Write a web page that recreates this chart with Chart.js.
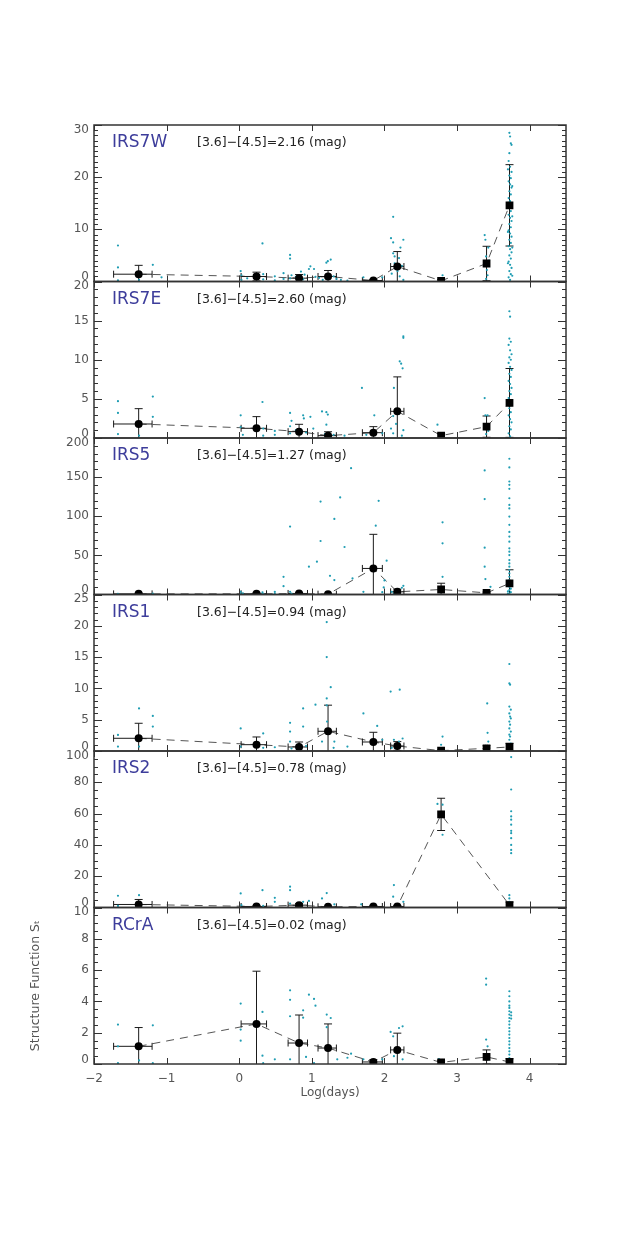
<!DOCTYPE html>
<html>
<head>
<meta charset="utf-8">
<script src="https://cdn.jsdelivr.net/npm/chart.js@4.4.1/dist/chart.umd.min.js"></script>
<style>
  body { margin: 0; background: #fff; }
  #wrap { position: relative; width: 627px; height: 1253px; }
  #wrap canvas { position: absolute; left: 0; top: 0; }
</style>
</head>
<body>
<div id="wrap"></div>
<script>
// lag bins (log days) shared by all sources
const binCenters = [-1.385, 0.238, 0.824, 1.223, 1.847, 2.177, 2.78, 3.406, 3.722];
const binLow = [-1.73, 0.026, 0.673, 1.085, 1.696, 2.085, 2.765, 3.395, 3.712];
const binHigh = [-1.20, 0.376, 0.94, 1.338, 1.971, 2.268, 2.795, 3.417, 3.732];

const sourceNames = ['IRS7W', 'IRS7E', 'IRS5', 'IRS1', 'IRS2', 'RCrA'];
const sourceColors = ['2.16', '2.60', '1.27', '0.94', '0.78', '0.02'];
const yMax = [30, 20, 200, 25, 100, 10];
const yMajor = [10, 5, 50, 5, 20, 2];
const yMinor = [1, 1, 10, 1, 5, 0.5];

const irs7wMean = [1.4, 0.96, 0.64, 0.96, 0.19, 2.87, 0.13, 3.45, 14.6];
const irs7wErr = [1.7, 0.83, 0.7, 1.15, 0.2, 2.87, 0.2, 3.3, 7.8];
const irs7eMean = [1.79, 1.24, 0.81, 0.30, 0.68, 3.41, 0.30, 1.45, 4.48];
const irs7eErr = [1.96, 1.49, 0.94, 0.5, 0.77, 4.4, 0.25, 1.36, 4.4];
const irs5Mean = [0.8, 0.9, 1.3, 0.4, 33.3, 3.4, 6.4, 2.1, 14.1];
const irs5Err = [0.8, 0.9, 1.0, 0.5, 43.6, 3.4, 8.0, 1.0, 17.5];
const irs1Mean = [2.03, 1.01, 0.64, 3.15, 1.44, 0.8, 0.05, 0.43, 0.64];
const irs1Err = [2.4, 1.23, 0.8, 4.17, 1.55, 0.7, 0.1, 0.4, 0.6];
const irs2Mean = [1.93, 0.64, 1.5, 0.43, 0.64, 0.64, 59.5, null, 1.5];
const irs2Err = [3.2, 0.5, 1.0, 0.3, 0.5, 0.6, 10.3, null, 2.0];
const rcraMean = [1.13, 2.56, 1.34, 1.02, 0.13, 0.9, 0.1, 0.45, 0.13];
const rcraErr = [1.2, 3.37, 1.79, 1.54, 0.15, 1.07, 0.1, 0.45, 0.2];

// individual pairs (log lag, S)
const irs7wDots = [
  [-1.67,6.9],[-1.67,2.7],[-1.67,0.2],[-1.38,0.3],[-1.19,3.2],[-1.07,0.8],
  [0.02,2.0],[0.03,1.2],[0.03,0.3],[0.11,0.6],[0.32,7.3],[0.33,1.4],[0.33,0.4],[0.49,1.0],[0.49,0.2],[0.61,1.6],[0.61,0.5],
  [0.70,5.1],[0.70,4.4],[0.70,0.6],[0.72,1.2],[0.78,0.9],[0.85,1.9],[0.88,0.4],[0.90,1.3],[0.96,2.4],[0.98,2.9],[1.03,2.4],
  [1.05,0.9],[1.10,0.7],[1.15,0.3],[1.20,3.6],[1.22,3.9],[1.26,4.2],[1.30,1.0],[1.34,0.5],[1.40,0.3],[1.49,0.15],[1.71,0.8],[1.86,0.3],[1.97,0.8],
  [2.09,8.3],[2.12,12.4],[2.12,7.5],[2.12,5.4],[2.14,4.8],[2.14,3.5],[2.18,2.0],[2.20,4.5],[2.21,1.0],[2.22,6.5],[2.24,3.0],[2.26,8.0],[2.26,0.3],[2.10,1.5],
  [2.78,0.3],[2.80,1.2],
  [3.38,8.9],[3.39,8.0],[3.40,4.8],[3.41,2.2],[3.42,1.2],[3.40,0.5],[3.44,4.0],[3.43,6.5],
  [3.72,28.5],[3.73,27.8],[3.74,26.5],[3.75,26.2],[3.72,24.6],[3.71,23.1],[3.73,22.0],[3.75,21.0],[3.72,20.3],[3.74,19.8],
  [3.71,19.2],[3.73,18.6],[3.75,18.0],[3.72,17.3],[3.74,16.7],[3.71,16.0],[3.73,15.4],[3.75,14.8],[3.72,14.1],[3.74,13.5],
  [3.71,12.8],[3.73,12.2],[3.75,11.6],[3.72,11.0],[3.74,10.4],[3.71,9.8],[3.73,9.2],[3.75,8.6],[3.72,8.0],[3.74,7.4],
  [3.71,6.8],[3.73,6.2],[3.75,5.6],[3.72,5.0],[3.74,4.4],[3.71,3.8],[3.73,3.2],[3.75,2.6],[3.72,2.0],[3.74,1.4],[3.71,0.8],[3.73,0.3],
  [3.70,21.5],[3.76,18.3],[3.70,15.1],[3.76,12.5],[3.70,9.5],[3.76,6.5],[3.70,3.5],[3.76,1.1]
];
const irs7eDots = [
  [-1.67,4.7],[-1.67,3.2],[-1.67,0.5],[-1.38,1.5],[-1.38,0.3],[-1.19,5.3],[-1.19,2.7],
  [0.02,2.9],[0.02,1.4],[0.05,0.4],[0.32,4.6],[0.33,1.2],[0.33,0.3],[0.49,0.4],[0.49,0.9],
  [0.70,3.2],[0.70,1.5],[0.70,0.6],[0.72,2.2],[0.78,1.0],[0.88,2.9],[0.89,2.5],[0.92,0.7],[0.98,2.7],[1.02,1.2],
  [1.14,3.4],[1.20,3.3],[1.20,1.7],[1.22,3.0],[1.18,0.5],[1.30,0.4],[1.45,0.3],[1.69,6.4],[1.75,0.4],[1.86,2.9],[1.97,0.6],
  [2.09,1.2],[2.12,0.6],[2.13,6.4],[2.12,2.8],[2.16,1.8],[2.21,9.8],[2.23,9.5],[2.26,12.8],[2.26,13.0],[2.25,8.9],[2.20,3.1],[2.26,1.0],[2.24,0.3],
  [2.73,1.7],[2.75,0.4],
  [3.38,5.1],[3.39,2.9],[3.42,2.9],[3.41,1.5],[3.40,0.5],[3.43,0.9],
  [3.72,16.2],[3.73,15.5],[3.72,12.7],[3.74,12.3],[3.71,11.9],[3.73,11.2],[3.75,10.7],[3.72,10.3],[3.74,10.0],[3.71,9.6],
  [3.73,9.1],[3.75,8.7],[3.72,8.2],[3.74,7.8],[3.71,7.3],[3.73,6.9],[3.75,6.4],[3.72,6.0],[3.74,5.6],[3.71,5.1],
  [3.73,4.7],[3.75,4.2],[3.72,3.8],[3.74,3.3],[3.71,2.9],[3.73,2.4],[3.75,2.0],[3.72,1.5],[3.74,1.1],[3.71,0.6],[3.73,0.2]
];
const irs5Dots = [
  [-1.67,0.8],[-1.38,0.5],[-1.19,1.2],[0.02,3.4],[0.02,0.6],[0.05,1.5],[0.32,2.6],[0.33,0.5],[0.49,3.4],[0.49,1.0],
  [0.61,10.7],[0.61,22.6],[0.70,86.8],[0.70,3.4],[0.72,1.3],[0.85,2.6],[0.96,35.5],[1.07,41.9],[1.12,118.8],[1.12,68.4],
  [1.25,23.9],[1.31,96.6],[1.31,18.4],[1.39,124],[1.45,60.7],[1.54,161.5],[1.56,20.5],[1.71,3.4],[1.88,88],[1.92,119.7],
  [1.97,3.0],[2.03,43.2],[2.00,18.0],[1.99,9.0],[2.10,3.4],[2.13,1.5],[2.21,6.0],[2.24,8.6],[2.26,11.1],
  [2.80,92.3],[2.80,65.4],[2.80,22.6],[2.78,3.0],
  [3.38,158.5],[3.38,122],[3.38,59.8],[3.38,35.5],[3.39,19.7],[3.46,9.8],[3.44,5.6],[3.40,1.0],
  [3.72,173.5],[3.72,162.4],[3.72,144.4],[3.72,140.2],[3.72,135],[3.72,123],[3.72,114.5],[3.72,110],[3.72,99.6],
  [3.72,89],[3.72,80],[3.72,74],[3.72,67.5],[3.72,59],[3.72,54.7],[3.72,50.4],[3.72,44],[3.72,39.7],[3.72,35.5],
  [3.72,31.2],[3.72,26.9],[3.72,22.6],[3.72,18.4],[3.72,14.1],[3.72,9.8],[3.72,5.6],[3.72,1.3],
  [3.74,12.0],[3.74,7.5],[3.74,3.0],[3.70,4.0],[3.70,1.0]
];
const irs1Dots = [
  [-1.67,2.56],[-1.67,0.7],[-1.38,6.8],[-1.38,0.7],[-1.19,5.6],[-1.19,3.9],[0.02,3.6],[0.02,0.7],[0.33,2.8],[0.33,0.5],
  [0.49,0.6],[0.70,4.5],[0.70,3.1],[0.70,1.5],[0.72,0.4],[0.88,6.8],[0.88,3.9],[0.92,0.8],[1.05,7.4],
  [1.205,20.6],[1.205,15.0],[1.205,8.4],[1.205,7.3],[1.26,10.2],[1.21,4.7],[1.14,1.5],[1.31,1.5],[1.30,0.5],[1.49,0.7],
  [1.71,6.0],[1.90,4.0],[1.97,1.8],[2.085,9.5],[2.21,9.8],[2.13,1.8],[2.20,1.5],[2.25,2.0],[2.10,0.5],
  [2.80,2.3],[2.78,1.0],[3.415,7.6],[3.42,2.9],[3.40,0.7],[3.43,1.5],
  [3.72,13.9],[3.72,10.8],[3.73,10.6],[3.72,7.1],[3.74,6.6],[3.72,6.0],[3.73,5.5],[3.74,5.2],[3.72,4.7],[3.73,4.2],
  [3.72,3.6],[3.74,3.1],[3.72,2.6],[3.73,2.3],[3.72,1.8],[3.74,1.2],[3.72,0.7],[3.73,0.3]
];
const irs2Dots = [
  [-1.67,7.5],[-1.67,1.0],[-1.38,7.9],[-1.38,0.8],[0.02,9.0],[0.03,1.5],[0.32,11.1],[0.33,1.0],[0.49,6.2],[0.49,3.6],
  [0.70,13.3],[0.70,11.1],[0.70,2.5],[0.88,3.6],[0.96,4.2],[1.205,9.2],[1.14,5.8],[1.31,2.0],[1.68,2.0],
  [2.13,14.3],[2.12,6.9],[2.26,3.6],[2.20,1.0],
  [2.73,66.2],[2.80,65.7],[2.80,46.5],
  [3.745,96.1],[3.745,75.4],[3.745,61.5],[3.745,58.2],[3.745,56.1],[3.745,52.9],[3.745,49],[3.745,47.5],[3.745,44.3],
  [3.745,40],[3.745,36.8],[3.745,34.7],[3.72,7.9],[3.72,5.8],[3.72,3.6],[3.72,1.5]
];
const rcraDots = [
  [-1.67,2.52],[-1.67,1.13],[-1.67,0.05],[-1.38,0.23],[-1.19,2.47],[-1.19,0.05],
  [0.02,3.86],[0.02,2.2],[0.02,1.49],[0.32,3.33],[0.32,0.53],[0.33,0.05],[0.49,0.3],
  [0.70,4.71],[0.70,4.1],[0.70,3.05],[0.70,0.3],[0.88,3.43],[0.88,2.96],[0.96,4.43],[1.03,4.16],[1.05,3.73],[0.92,0.45],[1.03,0.05],
  [1.205,3.16],[1.205,2.35],[1.26,2.94],[1.35,0.3],[1.49,0.4],[1.54,0.66],[1.71,0.3],[1.86,0.15],[1.97,0.3],
  [2.085,2.05],[2.12,1.77],[2.20,2.3],[2.25,2.41],[2.13,0.5],[2.25,0.3],
  [2.75,0.32],[3.40,5.46],[3.40,5.07],[3.40,1.56],[3.42,1.13],[3.43,0.3],
  [3.72,4.65],[3.72,4.33],[3.72,4.0],[3.72,3.73],[3.72,3.58],[3.72,3.37],[3.72,3.16],[3.72,2.94],[3.72,2.73],[3.72,2.52],
  [3.72,2.3],[3.72,2.09],[3.72,1.88],[3.72,1.66],[3.72,1.45],[3.72,1.24],[3.72,1.02],[3.72,0.81],[3.72,0.6],[3.72,0.38],[3.72,0.17],
  [3.745,3.3],[3.745,3.1],[3.745,2.9]
];

const sourceMeans = [irs7wMean, irs7eMean, irs5Mean, irs1Mean, irs2Mean, rcraMean];
const sourceErrs = [irs7wErr, irs7eErr, irs5Err, irs1Err, irs2Err, rcraErr];
const sourceDots = [irs7wDots, irs7eDots, irs5Dots, irs1Dots, irs2Dots, rcraDots];

const W = 627, H = 1253;
const TOP = 125, PANEL_H = 156.5;
const FONT = '"DejaVu Sans", sans-serif';

// frame, inward ticks and the in-panel captions
const framePlugin = {
  id: 'frame',
  afterDatasetsDraw(chart, args, o) {
    const { ctx, chartArea: a, scales: { x, y } } = chart;
    ctx.save();
    ctx.strokeStyle = '#333';
    ctx.lineWidth = 1;
    ctx.beginPath();
    for (let k = 0; k * o.minor <= y.max + 1e-9; k++) {
      const v = k * o.minor;
      const py = Math.round(y.getPixelForValue(v)) + 0.5;
      const major = Math.abs(v / o.major - Math.round(v / o.major)) < 1e-6;
      const len = major ? 8 : 4;
      ctx.moveTo(a.left, py); ctx.lineTo(a.left + len, py);
      ctx.moveTo(a.right, py); ctx.lineTo(a.right - len, py);
    }
    x.ticks.forEach(t => {
      const px = Math.round(x.getPixelForValue(t.value)) + 0.5;
      ctx.moveTo(px, a.bottom); ctx.lineTo(px, a.bottom - 6);
      ctx.moveTo(px, a.top); ctx.lineTo(px, a.top + 6);
    });
    ctx.stroke();
    ctx.lineWidth = 1.5;
    ctx.strokeRect(a.left, a.top, a.right - a.left, a.bottom - a.top);

    ctx.textBaseline = 'middle';
    ctx.fillStyle = '#3d3d9b';
    ctx.font = '17px ' + FONT;
    ctx.fillText(o.name, a.left + 18, a.top + 18);
    ctx.fillStyle = '#222';
    ctx.font = '12.5px ' + FONT;
    ctx.fillText('[3.6]\u2212[4.5]=' + o.color + ' (mag)', a.left + 103, a.top + 18);
    ctx.restore();
  }
};

function ySegments(mean, err) {
  const pts = [];
  binCenters.forEach((x, i) => {
    if (mean[i] == null) return;
    pts.push({ x, y: mean[i] - err[i] }, { x, y: mean[i] + err[i] }, { x, y: null });
  });
  return pts;
}

function xSegments(mean) {
  const pts = [];
  binCenters.forEach((x, i) => {
    if (mean[i] == null) return;
    pts.push({ x: binLow[i], y: mean[i] }, { x: binHigh[i], y: mean[i] }, { x: binLow[i], y: null });
  });
  return pts;
}

const wrap = document.getElementById('wrap');

sourceNames.forEach((name, p) => {
  const last = p === sourceNames.length - 1;
  const top = TOP + p * PANEL_H;
  const bottom = top + PANEL_H;
  const xHeight = last ? 40 : 0;

  const canvas = document.createElement('canvas');
  canvas.width = W;
  canvas.height = H;
  wrap.appendChild(canvas);

  const mean = sourceMeans[p];
  const err = sourceErrs[p];
  const meanPts = binCenters.map((x, i) => ({ x, y: mean[i] }));

  new Chart(canvas, {
    type: 'scatter',
    data: {
      datasets: [
        {
          data: meanPts,
          pointStyle: binCenters.map((x, i) => (i >= 6 ? 'rect' : 'circle')),
          pointRadius: binCenters.map((x, i) => (i >= 6 ? 5.5 : 4)),
          pointBackgroundColor: '#000',
          pointBorderColor: '#000',
          pointBorderWidth: 0
        },
        {
          data: sourceDots[p].map(([x, y]) => ({ x, y })),
          pointRadius: 1.1,
          pointBorderWidth: 0,
          pointBackgroundColor: '#1f9db3'
        },
        {
          type: 'line',
          data: ySegments(mean, err),
          borderColor: '#1a1a1a',
          borderWidth: 1,
          spanGaps: false,
          pointStyle: 'line',
          pointRadius: 4,
          pointBorderColor: '#1a1a1a',
          pointBorderWidth: 1
        },
        {
          type: 'line',
          data: xSegments(mean),
          borderColor: '#1a1a1a',
          borderWidth: 1,
          spanGaps: false,
          pointStyle: 'line',
          pointRotation: 90,
          pointRadius: 3.5,
          pointBorderColor: '#1a1a1a',
          pointBorderWidth: 1
        },
        {
          type: 'line',
          data: meanPts,
          borderColor: '#555',
          borderWidth: 1,
          borderDash: [8, 6],
          spanGaps: true,
          pointRadius: 0
        }
      ]
    },
    options: {
      responsive: false,
      animation: false,
      events: [],
      layout: { padding: { top: top, bottom: H - bottom - xHeight, left: 0, right: 61 } },
      plugins: {
        legend: { display: false },
        tooltip: { enabled: false },
        frame: { name, color: sourceColors[p], major: yMajor[p], minor: yMinor[p] }
      },
      scales: {
        x: {
          type: 'linear',
          min: -2,
          max: 4.5,
          grid: { display: false, drawTicks: false },
          border: { display: false },
          ticks: {
            display: last,
            stepSize: 1,
            includeBounds: false,
            padding: 8,
            color: '#555',
            font: { family: FONT, size: 12 },
            callback: v => (v < 0 ? '\u2212' + Math.abs(v) : String(v))
          },
          title: {
            display: last,
            text: 'Log(days)',
            color: '#555',
            font: { family: FONT, size: 12 },
            padding: { top: 0, bottom: 4 }
          },
          afterFit: s => { s.height = xHeight; }
        },
        y: {
          min: 0,
          max: yMax[p],
          grid: { display: false, drawTicks: false },
          border: { display: false },
          ticks: {
            stepSize: yMajor[p],
            padding: 5,
            color: '#555',
            font: { family: FONT, size: 12, lineHeight: 0.75 },
            callback: (v, i, ticks) => {
              const s = String(v);
              if (i === 0) return [s, ''];
              if (i === ticks.length - 1) return ['', s];
              return s;
            }
          },
          title: {
            display: last,
            text: 'Structure Function S\u209C',
            color: '#555',
            font: { family: FONT, size: 12.5 },
            padding: { top: 28, bottom: 0 }
          },
          afterFit: s => { s.width = 94; }
        }
      }
    },
    plugins: [framePlugin]
  });
});
</script>
</body>
</html>
